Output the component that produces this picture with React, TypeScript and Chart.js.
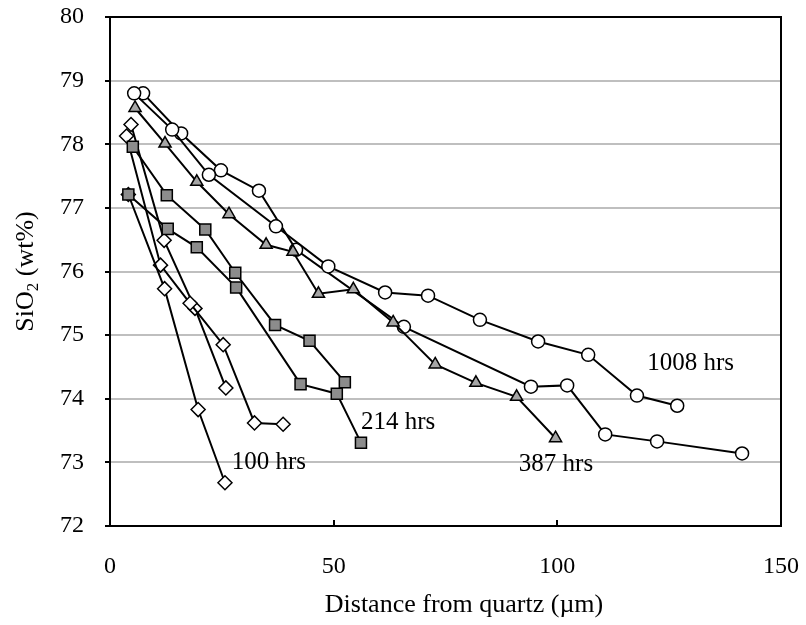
import React, { useEffect, useRef } from "react";
import { Chart, registerables } from "chart.js";

Chart.register(...registerables);

// ---- data (distance from quartz in µm, SiO2 in wt%) ----
const hrs100aX = [4.1, 12.2, 19.7, 25.7];
const hrs100aY = [77.21, 75.73, 73.83, 72.68];
const hrs100bX = [3.7, 11.3, 17.9, 25.3, 32.3, 38.7];
const hrs100bY = [78.13, 76.1, 75.5, 74.85, 73.62, 73.6];
const hrs100cX = [4.7, 12.1, 19.0, 25.9];
const hrs100cY = [78.31, 76.49, 75.42, 74.17];

const hrs214aX = [5.1, 12.7, 21.3, 28.0, 36.9, 44.6, 52.5];
const hrs214aY = [77.96, 77.2, 76.66, 75.98, 75.16, 74.91, 74.26];
const hrs214bX = [4.1, 12.9, 19.4, 28.2, 42.6, 50.7, 56.1];
const hrs214bY = [77.21, 76.67, 76.38, 75.75, 74.23, 74.08, 73.31];

const hrs387X = [5.6, 12.3, 19.4, 26.6, 34.9, 40.9, 46.6, 54.4, 63.3, 72.7, 81.8, 90.9, 99.6];
const hrs387Y = [78.57, 78.01, 77.41, 76.9, 76.42, 76.31, 75.65, 75.72, 75.2, 74.54, 74.25, 74.03, 73.38];

const hrs1008aX = [5.4, 13.9, 22.1, 37.1, 48.8, 61.5, 71.1, 82.7, 95.7, 106.9, 117.8, 126.8];
const hrs1008aY = [78.8, 78.23, 77.52, 76.71, 76.08, 75.67, 75.62, 75.24, 74.9, 74.69, 74.05, 73.89];
const hrs1008bX = [7.4, 15.9, 24.8, 33.3, 41.6, 65.7, 94.1, 102.2, 110.7, 122.3, 141.3];
const hrs1008bY = [78.8, 78.17, 77.59, 77.27, 76.34, 75.13, 74.19, 74.21, 73.44, 73.33, 73.14];

// series annotation labels and the data point each is anchored at (left edge, vertical middle)
const seriesLabels = ["100 hrs", "214 hrs", "387 hrs", "1008 hrs"];
const labelAtX = [27.2, 56.1, 91.4, 120.1];
const labelAtY = [73.0, 73.63, 72.96, 74.56];

const xMin = 0, xMax = 150, xStep = 50;
const yMin = 72, yMax = 80, yStep = 1;
const xTitle = "Distance from quartz (µm)";
const yTitleMain = "SiO";
const yTitleSub = "2";
const yTitleTail = " (wt%)";

const SERIF = "'Liberation Serif', 'Times New Roman', serif";

function pts(xs: number[], ys: number[]) {
  return xs.map((x, i) => ({ x, y: ys[i] }));
}

const framePlugin = {
  id: "frame",
  beforeDatasetsDraw(chart: any) {
    const { ctx, chartArea: a, scales } = chart;
    ctx.save();
    ctx.strokeStyle = "#000";
    ctx.lineWidth = 2;
    ctx.strokeRect(a.left, a.top, a.right - a.left, a.bottom - a.top);
    // y tick marks (outside)
    for (let v = yMin; v <= yMax; v += yStep) {
      const py = Math.round(scales.y.getPixelForValue(v));
      ctx.beginPath();
      ctx.moveTo(a.left - 5, py);
      ctx.lineTo(a.left, py);
      ctx.stroke();
    }
    // x tick marks (inside)
    for (let v = xMin; v <= xMax; v += xStep) {
      const px = Math.round(scales.x.getPixelForValue(v));
      ctx.beginPath();
      ctx.moveTo(px, a.bottom);
      ctx.lineTo(px, a.bottom - 6);
      ctx.stroke();
    }
    ctx.restore();
  },
  afterDatasetsDraw(chart: any) {
    const { ctx, chartArea: a, scales } = chart;
    ctx.save();
    ctx.fillStyle = "#000";
    // series labels
    ctx.font = `25px ${SERIF}`;
    ctx.textAlign = "left";
    ctx.textBaseline = "middle";
    seriesLabels.forEach((t, i) => {
      ctx.fillText(t, scales.x.getPixelForValue(labelAtX[i]), scales.y.getPixelForValue(labelAtY[i]));
    });
    // x title
    ctx.font = `26px ${SERIF}`;
    ctx.textAlign = "center";
    ctx.textBaseline = "alphabetic";
    ctx.fillText(xTitle, 464, 612);
    // y title with subscript
    const big = `26px ${SERIF}`;
    const small = `17px ${SERIF}`;
    ctx.font = big;
    const w1 = ctx.measureText(yTitleMain).width;
    const w3 = ctx.measureText(yTitleTail).width;
    ctx.font = small;
    const w2 = ctx.measureText(yTitleSub).width;
    const total = w1 + w2 + w3;
    const cy = (a.top + a.bottom) / 2;
    ctx.translate(33, cy);
    ctx.rotate(-Math.PI / 2);
    ctx.textAlign = "left";
    let x0 = -total / 2;
    ctx.font = big;
    ctx.fillText(yTitleMain, x0, 0);
    x0 += w1;
    ctx.font = small;
    ctx.fillText(yTitleSub, x0, 5);
    x0 += w2;
    ctx.font = big;
    ctx.fillText(yTitleTail, x0, 0);
    ctx.restore();
  },
};

export default function App() {
  const ref = useRef<HTMLCanvasElement | null>(null);
  useEffect(() => {
    document.body.style.margin = "0";
    const canvas = ref.current;
    if (!canvas) return;
    const line = { showLine: true, borderColor: "#000", borderWidth: 2, pointBorderColor: "#000", pointBorderWidth: 1.5 };
    const circle = { ...line, pointStyle: "circle", pointRadius: 6.5, pointBackgroundColor: "#fff" };
    const square = { ...line, pointStyle: "rect", pointRadius: 7.8, pointBackgroundColor: "#8c8c8c" };
    const tri = { ...line, pointStyle: "triangle", pointRadius: 7, pointBackgroundColor: "#a6a6a6" };
    const diamond = { ...line, pointStyle: "rectRot", pointRadius: 7, pointBackgroundColor: "#fff" };
    const chart = new Chart(canvas, {
      type: "scatter",
      data: {
        datasets: [
          { label: "214 hrs a", data: pts(hrs214aX, hrs214aY), ...square },
          { label: "214 hrs b", data: pts(hrs214bX, hrs214bY), ...square },
          { label: "100 hrs a", data: pts(hrs100aX, hrs100aY), ...diamond },
          { label: "100 hrs b", data: pts(hrs100bX, hrs100bY), ...diamond },
          { label: "100 hrs c", data: pts(hrs100cX, hrs100cY), ...diamond },
          { label: "387 hrs", data: pts(hrs387X, hrs387Y), ...tri },
          { label: "1008 hrs a", data: pts(hrs1008aX, hrs1008aY), ...circle },
          { label: "1008 hrs b", data: pts(hrs1008bX, hrs1008bY), ...circle },
        ] as any,
      },
      options: {
        animation: false,
        responsive: false,
        devicePixelRatio: 1,
        layout: { padding: { top: 17, right: 25, left: 0, bottom: 0 } },
        plugins: { legend: { display: false }, tooltip: { enabled: false } },
        scales: {
          x: {
            type: "linear",
            min: xMin,
            max: xMax,
            ticks: { stepSize: xStep, color: "#000", font: { family: SERIF, size: 24 }, padding: 26 },
            grid: { display: false, drawTicks: false },
            border: { display: false },
            afterFit(s: any) {
              s.height = 99;
              s.paddingLeft = 0;
              s.paddingRight = 0;
            },
          },
          y: {
            type: "linear",
            min: yMin,
            max: yMax,
            ticks: { stepSize: yStep, color: "#000", font: { family: SERIF, size: 24 }, padding: 26 },
            grid: { color: "#bfbfbf", lineWidth: 2, drawTicks: false },
            border: { display: false },
            afterFit(s: any) {
              s.width = 110;
              s.paddingTop = 0;
              s.paddingBottom = 0;
            },
          },
        },
      } as any,
      plugins: [framePlugin],
    });
    return () => chart.destroy();
  }, []);
  return (
    <div style={{ width: 806, height: 625 }}>
      <canvas ref={ref} width={806} height={625} />
    </div>
  );
}
